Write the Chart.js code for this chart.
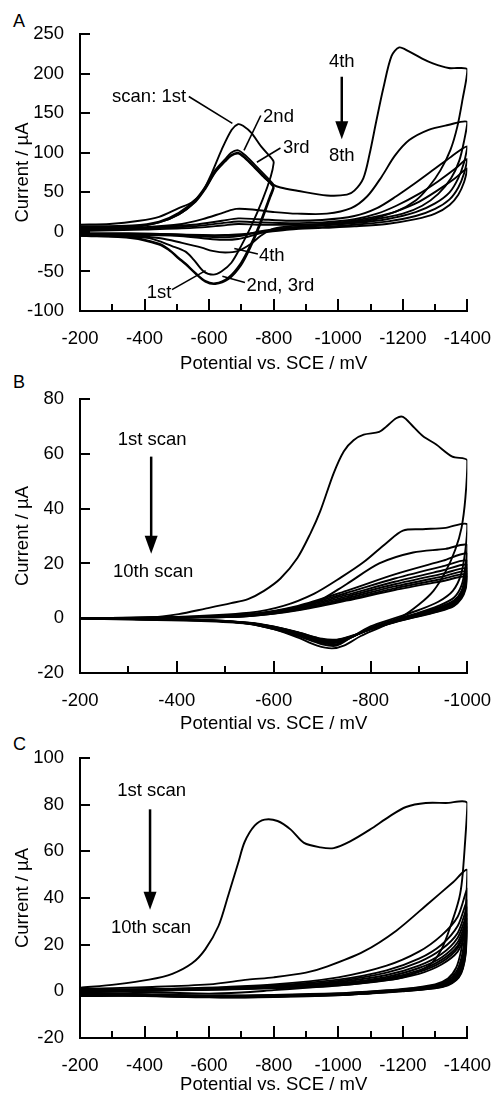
<!DOCTYPE html>
<html>
<head>
<meta charset="utf-8">
<script src="https://cdn.jsdelivr.net/npm/chart.js@4.4.0/dist/chart.umd.min.js"></script>
<style>
  html, body { margin: 0; padding: 0; background: #fff; }
  body { width: 500px; height: 1101px; position: relative; overflow: hidden; font-family: "Liberation Sans", Arial, sans-serif; }
  .panel { position: absolute; left: 0; }
  .tag { position: absolute; left: 13px; font-size: 18px; line-height: 1; color: #000; }
</style>
</head>
<body>
<div class="tag" style="top:12px">A</div>
<div class="tag" style="top:373px">B</div>
<div class="tag" style="top:735px">C</div>
<canvas id="chartA" class="panel" style="top:0" width="500" height="380"></canvas>
<canvas id="chartB" class="panel" style="top:380px" width="500" height="355"></canvas>
<canvas id="chartC" class="panel" style="top:735px" width="500" height="366"></canvas>
<script>
// ---- panel A: scans 1-3 switch at -800 mV, scans 4-8 at -1400 mV  [E (mV), I (uA)]
const scanA1 = [[-200,9],[-292,10],[-384,14],[-445,19],[-506,30],[-546,37],[-577,49],[-608,74],[-639,104],[-670,129],[-690,136],[-705,134],[-731,125],[-761,108],[-797,91],[-800,87],
  [-791,70],[-766,41],[-730,7],[-699,-18],[-669,-39],[-638,-50],[-613,-54],[-583,-50],[-552,-35],[-527,-25],[-485,-18],[-414,-8],[-313,-5],[-200,-4]];
const scanA2 = [[-200,7],[-362,8],[-445,13],[-506,24],[-558,41],[-588,57],[-619,78],[-650,92],[-668,100],[-690,103],[-711,97],[-741,85],[-772,72],[-797,61],[-800,58],
  [-788,45],[-761,15],[-731,-14],[-699,-39],[-659,-58],[-619,-65],[-588,-62],[-558,-52],[-527,-40],[-506,-33],[-475,-22],[-445,-15],[-362,-7],[-200,-5]];
const scanA3 = [[-200,6],[-362,7],[-445,12],[-506,22],[-558,39],[-588,55],[-619,76],[-650,90],[-668,97],[-690,100],[-711,94],[-741,82],[-772,69],[-797,58],[-800,55],
  [-788,42],[-761,12],[-731,-17],[-699,-42],[-659,-60],[-619,-66],[-588,-63],[-558,-53],[-527,-41],[-506,-34],[-475,-23],[-445,-16],[-362,-8],[-200,-5]];
const scanA4 = [[-200,5],[-362,6],[-445,12],[-506,22],[-558,38],[-588,54],[-619,75],[-650,89],[-668,96],[-690,99],[-711,93],[-741,81],[-772,68],[-797,60],[-821,56],[-873,52],[-965,46],[-1027,47],[-1050,52],[-1078,68],[-1097,98],[-1118,140],[-1140,182],[-1165,222],[-1189,233],[-1219,228],[-1260,219],[-1293,213],[-1342,207],[-1372,207],[-1400,205],
  [-1385,167],[-1369,133],[-1348,104],[-1317,78],[-1281,57],[-1241,40],[-1180,26],[-1100,18],[-1026,13],[-950,10],[-873,8],[-800,4],[-760,-5],[-730,-15],[-690,-24],[-650,-26],[-610,-24],[-577,-20],[-516,-14],[-450,-8],[-350,-5],[-200,-4]];
const scanA5 = [[-200,4],[-400,6],[-516,10],[-580,16],[-649,25],[-684,29],[-741,28],[-803,25],[-873,23],[-965,23],[-1040,30],[-1090,45],[-1135,70],[-1175,96],[-1220,116],[-1280,129],[-1340,135],[-1400,139],
  [-1390,115],[-1375,90],[-1350,68],[-1310,48],[-1260,33],[-1200,23],[-1100,15],[-1000,10],[-900,7],[-800,3],[-740,-4],[-690,-9],[-640,-10],[-580,-8],[-500,-5],[-400,-4],[-200,-3]];
const scanA6 = [[-200,3],[-400,5],[-550,9],[-640,14],[-690,17],[-750,16],[-850,14],[-950,15],[-1050,20],[-1120,30],[-1180,45],[-1240,62],[-1300,80],[-1350,95],[-1400,108],
  [-1390,88],[-1372,68],[-1345,50],[-1300,36],[-1240,25],[-1150,16],[-1050,11],[-950,8],[-850,5],[-760,1],[-700,-5],[-650,-7],[-580,-6],[-480,-4],[-350,-3],[-200,-3]];
const scanA7 = [[-200,2],[-400,4],[-550,7],[-640,11],[-690,13],[-750,12],[-850,11],[-950,12],[-1050,16],[-1120,23],[-1180,33],[-1250,48],[-1310,64],[-1360,79],[-1400,92],
  [-1390,74],[-1372,56],[-1345,41],[-1300,29],[-1240,20],[-1150,13],[-1050,9],[-950,6],[-850,4],[-760,0],[-700,-4],[-650,-5],[-580,-5],[-480,-3],[-350,-2],[-200,-2]];
const scanA8 = [[-200,1],[-400,3],[-550,5],[-640,8],[-690,10],[-750,9],[-850,9],[-950,10],[-1050,13],[-1120,18],[-1180,26],[-1250,38],[-1310,53],[-1360,67],[-1400,80],
  [-1390,63],[-1372,47],[-1345,34],[-1300,23],[-1240,16],[-1150,10],[-1050,7],[-950,5],[-850,3],[-760,-1],[-700,-3],[-650,-4],[-580,-4],[-480,-3],[-350,-2],[-200,-2]];

// ---- panel B: 10 scans, -200 to -1000 mV
const scanB1 = [[-200,0],[-343,0.3],[-404,1.5],[-459,3.5],[-512,5.5],[-547,7],[-580,10],[-614,14.5],[-649,22],[-676,31],[-696,39],[-724,53],[-745,61],[-765,65],[-786,67],[-818,68],[-833,70],[-853,73],[-867,73.5],[-888,70],[-908,66.5],[-935,63.5],[-969,59],[-1000,57.6],
  [-996,44],[-988,33],[-975,25],[-955,17],[-930,10],[-900,5],[-860,0],[-818,-3.5],[-780,-6.5],[-745,-10],[-720,-11],[-690,-10],[-649,-7],[-600,-4],[-547,-2],[-450,-1],[-300,-0.5],[-200,0]];
const scanB2 = [[-200,0],[-400,0.5],[-550,2],[-620,4.5],[-684,9],[-740,15],[-786,20.5],[-833,27.5],[-867,32],[-908,32.5],[-955,33],[-1000,34.3],
  [-996,25],[-987,16],[-970,10],[-940,6],[-900,3],[-850,0],[-800,-3],[-760,-7],[-730,-10],[-700,-9.5],[-650,-6.5],[-600,-4],[-550,-2],[-450,-0.8],[-200,0]];
const scanB3 = [[-200,0],[-400,0.4],[-550,1.5],[-620,3],[-684,5.5],[-751,12.5],[-818,20],[-888,24],[-955,25.3],[-1000,26.7],
  [-996,19],[-988,12],[-972,7.5],[-940,4.5],[-900,2],[-850,-0.5],[-800,-3.5],[-760,-7],[-730,-9.5],[-700,-9],[-650,-6],[-600,-3.8],[-550,-2],[-450,-0.8],[-200,0]];
const scanB4 = [[-200,0],[-450,0.5],[-550,1.4],[-650,4.5],[-750,10],[-850,16],[-950,21],[-1000,23.5],
  [-996,16],[-988,10],[-972,6.5],[-940,4],[-900,1.8],[-850,-0.8],[-800,-3.6],[-760,-7],[-730,-9],[-700,-8.8],[-650,-5.8],[-600,-3.6],[-550,-1.9],[-450,-0.7],[-200,0]];
const scanB5 = [[-200,0],[-450,0.5],[-550,1.2],[-650,4.2],[-750,9.2],[-850,14.5],[-950,19],[-1000,21],
  [-996,14.5],[-988,9.5],[-972,6],[-940,3.6],[-900,1.5],[-850,-1],[-800,-3.8],[-760,-7],[-730,-8.8],[-700,-8.5],[-650,-5.6],[-600,-3.5],[-550,-1.9],[-450,-0.7],[-200,0]];
const scanB6 = [[-200,0],[-450,0.4],[-550,1.1],[-650,3.9],[-750,8.5],[-850,13.3],[-950,17.5],[-1000,19.5],
  [-996,13.5],[-988,9],[-972,5.6],[-940,3.3],[-900,1.3],[-850,-1.1],[-800,-3.9],[-760,-6.9],[-730,-8.6],[-700,-8.3],[-650,-5.5],[-600,-3.4],[-550,-1.8],[-450,-0.7],[-200,0]];
const scanB7 = [[-200,0],[-450,0.4],[-550,1],[-650,3.6],[-750,7.9],[-850,12.4],[-950,16.3],[-1000,18.2],
  [-996,12.5],[-988,8.5],[-972,5.3],[-940,3],[-900,1.1],[-850,-1.2],[-800,-4],[-760,-6.8],[-730,-8.4],[-700,-8.1],[-650,-5.4],[-600,-3.3],[-550,-1.8],[-450,-0.7],[-200,0]];
const scanB8 = [[-200,0],[-450,0.3],[-550,0.9],[-650,3.3],[-750,7.3],[-850,11.6],[-950,15.3],[-1000,17.1],
  [-996,11.8],[-988,8],[-972,5],[-940,2.8],[-900,1],[-850,-1.3],[-800,-4],[-760,-6.7],[-730,-8.2],[-700,-7.9],[-650,-5.3],[-600,-3.2],[-550,-1.7],[-450,-0.6],[-200,0]];
const scanB9 = [[-200,0],[-450,0.3],[-550,0.8],[-650,3.1],[-750,6.8],[-850,10.9],[-950,14.4],[-1000,16.1],
  [-996,11],[-988,7.6],[-972,4.7],[-940,2.6],[-900,0.8],[-850,-1.4],[-800,-4.1],[-760,-6.6],[-730,-8],[-700,-7.7],[-650,-5.2],[-600,-3.1],[-550,-1.7],[-450,-0.6],[-200,0]];
const scanB10 = [[-200,0],[-450,0.3],[-550,0.8],[-650,2.9],[-750,6.4],[-850,10.3],[-950,13.6],[-1000,15.2],
  [-996,10.4],[-988,7.2],[-972,4.4],[-940,2.4],[-900,0.7],[-850,-1.5],[-800,-4.1],[-760,-6.5],[-730,-7.8],[-700,-7.5],[-650,-5.1],[-600,-3],[-550,-1.6],[-450,-0.6],[-200,0]];

// ---- panel C: 10 scans, -200 to -1400 mV
const scanC1 = [[-200,1.5],[-312,3],[-414,5],[-486,7.5],[-547,12],[-588,18],[-629,28],[-659,41],[-690,55],[-710,64],[-741,71],[-772,73.6],[-812,73],[-853,69.3],[-894,63.6],[-945,61.7],[-986,61.4],[-1037,64.3],[-1098,69.3],[-1159,75],[-1210,79],[-1271,80.7],[-1333,80.7],[-1400,80.7],
  [-1392,62],[-1384,48],[-1375,40],[-1353,30],[-1320,18],[-1280,11],[-1200,6],[-1100,4],[-1000,2.5],[-900,1.5],[-800,0.5],[-700,-0.5],[-600,-1],[-450,-0.5],[-200,0]];
const scanC2 = [[-200,1],[-400,1.8],[-600,3],[-720,5],[-800,6],[-900,8],[-967,10.7],[-1078,17],[-1180,26],[-1282,38],[-1353,46.4],[-1400,52],
  [-1396,38],[-1390,26],[-1380,17],[-1365,10],[-1340,5.5],[-1300,3],[-1200,1],[-1100,0],[-1000,-0.8],[-800,-1.5],[-600,-1.8],[-400,-1.2],[-200,-0.5]];
const scanC3 = [[-200,0.8],[-500,1.2],[-800,3],[-1000,6],[-1150,11],[-1250,17],[-1320,24],[-1370,32],[-1400,44],
  [-1397,32],[-1391,22],[-1381,14],[-1366,8.5],[-1340,4.8],[-1300,2.6],[-1200,0.8],[-1100,-0.2],[-1000,-1],[-800,-1.7],[-600,-1.9],[-400,-1.3],[-200,-0.6]];
const scanC4 = [[-200,0.6],[-500,1],[-800,2.6],[-1000,5],[-1150,9],[-1250,14],[-1320,20],[-1370,28],[-1400,39],
  [-1397,28],[-1391,19],[-1381,12],[-1366,7.5],[-1340,4.2],[-1300,2.3],[-1200,0.6],[-1100,-0.3],[-1000,-1.1],[-800,-1.8],[-600,-2],[-400,-1.4],[-200,-0.8]];
const scanC5 = [[-200,0.4],[-500,0.8],[-800,2.2],[-1000,4.5],[-1150,8],[-1250,12.5],[-1320,18],[-1370,25],[-1400,36],
  [-1397,26],[-1391,17],[-1381,11],[-1366,6.8],[-1340,3.8],[-1300,2],[-1200,0.5],[-1100,-0.4],[-1000,-1.2],[-800,-1.9],[-600,-2.1],[-400,-1.5],[-200,-1]];
const scanC6 = [[-200,0.3],[-500,0.7],[-800,2],[-1000,4],[-1150,7],[-1250,11],[-1320,16],[-1370,23],[-1400,33],
  [-1397,24],[-1391,16],[-1381,10],[-1366,6.2],[-1340,3.5],[-1300,1.8],[-1200,0.4],[-1100,-0.5],[-1000,-1.3],[-800,-2],[-600,-2.2],[-400,-1.6],[-200,-1.2]];
const scanC7 = [[-200,0.2],[-500,0.6],[-800,1.8],[-1000,3.5],[-1150,6.2],[-1250,10],[-1320,14.5],[-1370,21],[-1400,31],
  [-1397,22],[-1391,15],[-1381,9.2],[-1366,5.8],[-1340,3.2],[-1300,1.6],[-1200,0.3],[-1100,-0.6],[-1000,-1.4],[-800,-2.1],[-600,-2.3],[-400,-1.7],[-200,-1.4]];
const scanC8 = [[-200,0.1],[-500,0.5],[-800,1.6],[-1000,3.2],[-1150,5.6],[-1250,9],[-1320,13.5],[-1370,19.5],[-1400,29],
  [-1397,21],[-1391,14],[-1381,8.6],[-1366,5.4],[-1340,3],[-1300,1.5],[-1200,0.2],[-1100,-0.7],[-1000,-1.5],[-800,-2.2],[-600,-2.4],[-400,-1.8],[-200,-1.6]];
const scanC9 = [[-200,0],[-500,0.5],[-800,1.5],[-1000,3],[-1150,5.2],[-1250,8.3],[-1320,12.5],[-1370,18.5],[-1400,27.5],
  [-1397,20],[-1391,13],[-1381,8.1],[-1366,5.1],[-1340,2.8],[-1300,1.4],[-1200,0.1],[-1100,-0.8],[-1000,-1.6],[-800,-2.3],[-600,-2.5],[-400,-1.9],[-200,-1.8]];
const scanC10 = [[-200,-0.2],[-500,0.4],[-800,1.3],[-1000,2.6],[-1150,4.7],[-1250,7.5],[-1320,11.5],[-1370,17],[-1400,26],
  [-1397,19],[-1391,12.5],[-1381,7.7],[-1366,4.8],[-1340,2.6],[-1300,1.3],[-1200,0],[-1100,-0.9],[-1000,-1.7],[-800,-2.4],[-600,-2.6],[-400,-2],[-200,-2]];

// annotations, in data units [E, I]
const notesA = [["scan: 1st",-414,170],["2nd",-815,145],["3rd",-870,106],["4th",-1011,215],["8th",-1011,96],["4th",-794,-30],["1st",-445,-77],["2nd, 3rd",-821,-68]];
const leadersA = [[-537,171,-672,137],[-760,147,-708,103],[-821,106,-748,88],[-751,-28,-678,-21],[-485,-73,-589,-49],[-711,-64,-641,-56]];
const arrowsA = [[-1011,196,117]];
const notesB = [["1st scan",-349,65],["10th scan",-351,17]];
const arrowsB = [[-347,59,23.5]];
const notesC = [["1st scan",-422,86],["10th scan",-420,27]];
const arrowsC = [[-417,78,35]];

const FONT = '"Liberation Sans", Arial, sans-serif';
Chart.defaults.font.family = FONT;
Chart.defaults.color = "#000";

function decor(xMin, notes, leaders, arrows) {
  return {
    id: "decor",
    afterDraw(chart) {
      const { ctx, chartArea: a, scales: { x, y } } = chart;
      ctx.save();
      ctx.strokeStyle = "#000";
      ctx.fillStyle = "#000";
      ctx.lineWidth = 2;
      // inward ticks
      y.ticks.forEach((t) => {
        const py = Math.round(y.getPixelForValue(t.value));
        ctx.beginPath(); ctx.moveTo(a.left, py); ctx.lineTo(a.left + 10, py); ctx.stroke();
      });
      for (let v = -300; v >= xMin; v -= 100) {
        const px = Math.round(x.getPixelForValue(v));
        const len = v % 200 === 0 ? 12 : 7;
        ctx.beginPath(); ctx.moveTo(px, a.bottom); ctx.lineTo(px, a.bottom - len); ctx.stroke();
      }
      // leader lines
      ctx.lineWidth = 1.6;
      leaders.forEach((l) => {
        ctx.beginPath();
        ctx.moveTo(x.getPixelForValue(l[0]), y.getPixelForValue(l[1]));
        ctx.lineTo(x.getPixelForValue(l[2]), y.getPixelForValue(l[3]));
        ctx.stroke();
      });
      // arrows
      ctx.lineWidth = 2.5;
      arrows.forEach((ar) => {
        const px = x.getPixelForValue(ar[0]);
        const top = y.getPixelForValue(ar[1]);
        const tip = y.getPixelForValue(ar[2]);
        ctx.beginPath(); ctx.moveTo(px, top); ctx.lineTo(px, tip - 14); ctx.stroke();
        ctx.beginPath(); ctx.moveTo(px - 6.5, tip - 18); ctx.lineTo(px + 6.5, tip - 18); ctx.lineTo(px, tip); ctx.closePath(); ctx.fill();
      });
      // text
      ctx.font = "18.5px " + FONT;
      ctx.textAlign = "center";
      ctx.textBaseline = "middle";
      notes.forEach((n) => ctx.fillText(n[0], x.getPixelForValue(n[1]), y.getPixelForValue(n[2])));
      ctx.restore();
    }
  };
}

function makeChart(id, scans, opt) {
  const datasets = scans.map((s) => ({
    data: s, showLine: true, borderColor: "#000", borderWidth: 1.9,
    pointRadius: 0, tension: 0.3, fill: false
  }));
  return new Chart(document.getElementById(id), {
    type: "scatter",
    data: { datasets },
    options: {
      responsive: false, animation: false, events: [],
      layout: { padding: { top: opt.padTop, right: 28, left: 0, bottom: 0 } },
      plugins: { legend: { display: false }, tooltip: { enabled: false } },
      scales: {
        x: {
          type: "linear", min: opt.xMin, max: -200, reverse: true,
          grid: { display: false },
          border: { display: true, color: "#000", width: 2 },
          ticks: { stepSize: 200, padding: 9, maxRotation: 0, autoSkip: false, font: { size: 18.5 }, callback: (v) => String(v) },
          title: { display: true, text: "Potential vs. SCE / mV", font: { size: 18.5 }, padding: { top: 0, bottom: opt.titlePad } },
          afterFit: (s) => { s.height = opt.axisH; }
        },
        y: {
          min: opt.yMin, max: opt.yMax,
          grid: { display: false },
          border: { display: true, color: "#000", width: 2 },
          ticks: { stepSize: opt.yStep, padding: 8, font: { size: 18.5 }, callback: (v) => String(v) },
          title: { display: true, text: "Current / µA", font: { size: 18.5 }, padding: { top: 12, bottom: 0 } },
          afterFit: (s) => { s.width = 80; }
        }
      }
    },
    plugins: [decor(opt.xMin, opt.notes, opt.leaders, opt.arrows)]
  });
}

makeChart("chartA", [scanA1, scanA2, scanA3, scanA4, scanA5, scanA6, scanA7, scanA8], {
  xMin: -1400, yMin: -100, yMax: 250, yStep: 50, padTop: 34, axisH: 69, titlePad: 5,
  notes: notesA, leaders: leadersA, arrows: arrowsA
});
makeChart("chartB", [scanB1, scanB2, scanB3, scanB4, scanB5, scanB6, scanB7, scanB8, scanB9, scanB10], {
  xMin: -1000, yMin: -20, yMax: 80, yStep: 20, padTop: 14, axisH: 62, titlePad: 0,
  notes: notesB, leaders: [], arrows: arrowsB
});
makeChart("chartC", [scanC1, scanC2, scanC3, scanC4, scanC5, scanC6, scanC7, scanC8, scanC9, scanC10], {
  xMin: -1400, yMin: -20, yMax: 100, yStep: 20, padTop: 23, axisH: 63, titlePad: 5,
  notes: notesC, leaders: [], arrows: arrowsC
});
</script>
</body>
</html>
